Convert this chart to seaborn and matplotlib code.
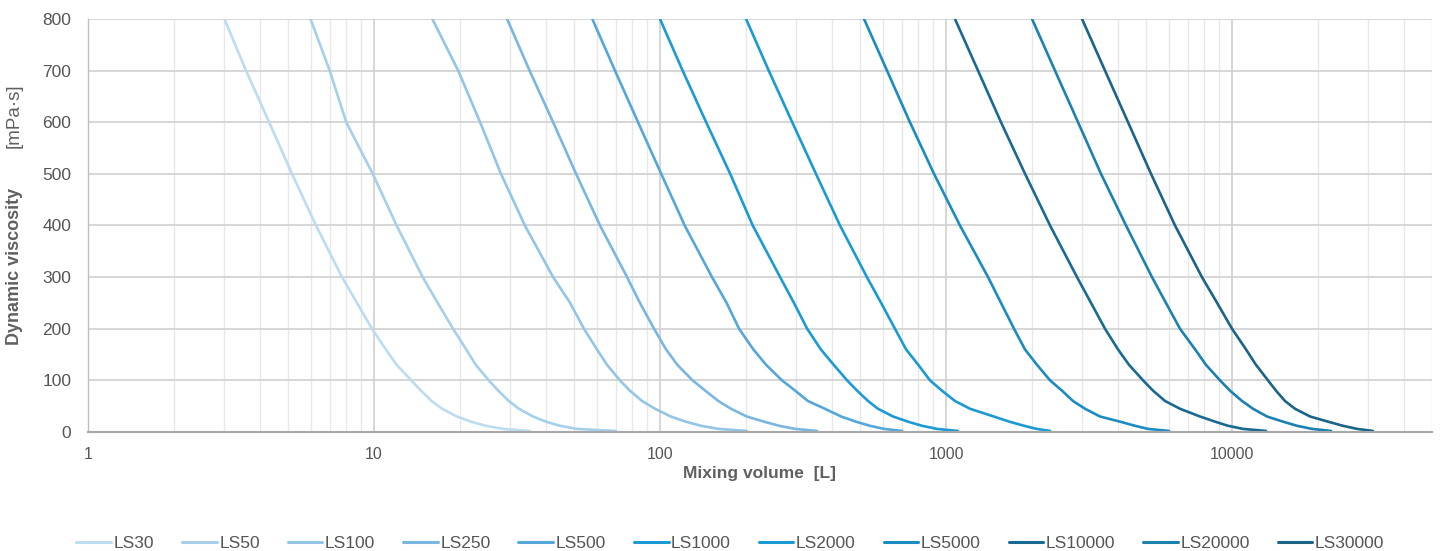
import pandas as pd
import matplotlib.pyplot as plt
import matplotlib.ticker as mticker
import seaborn as sns

# viscosity levels (mPa·s) at which the curves were read
visc = [800, 700, 600, 500, 400, 300, 250, 200, 160, 130, 100, 80, 60, 45, 30, 20, 12, 6, 2]

# mixing volume [L] of each model at those levels
ls30 = [3.0, 3.57, 4.30, 5.17, 6.27, 7.73, 8.72, 9.84, 11.0, 12.0, 13.5, 14.6, 15.9, 17.3, 19.5, 21.8, 24.6, 28.3, 35]
ls50 = [6.0, 7.0, 8.0, 9.9, 12.0, 14.8, 16.7, 18.9, 21.0, 22.7, 25.2, 27.2, 29.6, 32.1, 36.0, 39.9, 44.7, 51.3, 70]
ls100 = [16.0, 19.7, 23.5, 27.8, 33.7, 42.3, 48.5, 54.2, 60.2, 65.3, 72.4, 78.5, 86.5, 96.1, 109, 123, 139, 160, 201]
ls250 = [29.2, 35.0, 42.3, 50.9, 61.7, 76.7, 85.1, 95.3, 105, 115, 130, 144, 160, 177, 201, 231, 261, 297, 354]
ls500 = [58, 69.6, 83.8, 101, 122, 152, 171, 189, 212, 235, 267, 297, 329, 377, 430, 484, 542, 607, 702]
ls1000 = [100, 120, 145, 176, 211, 263, 294, 327, 365, 405, 451, 489, 534, 578, 653, 736, 824, 930, 1100]
ls2000 = [200, 240, 290, 351, 426, 529, 593, 663, 725, 800, 879, 968, 1075, 1213, 1468, 1665, 1875, 2074, 2311]
ls5000 = [517, 622, 748, 908, 1119, 1403, 1557, 1729, 1888, 2081, 2311, 2545, 2780, 3063, 3454, 4058, 4580, 5085, 6025]
ls10000 = [1075, 1294, 1557, 1890, 2311, 2871, 3214, 3597, 3993, 4365, 4886, 5297, 5834, 6577, 7727, 8726, 9683, 10920, 13150]
ls20000 = [1999, 2405, 2895, 3483, 4260, 5250, 5875, 6577, 7430, 8110, 9080, 9840, 10840, 11840, 13250, 15080, 16870, 19030, 22200]
ls30000 = [2990, 3597, 4330, 5210, 6320, 7850, 8870, 10000, 11190, 12130, 13360, 14250, 15320, 16600, 18750, 21660, 24420, 27350, 31100]

models = ['LS30', 'LS50', 'LS100', 'LS250', 'LS500', 'LS1000',
          'LS2000', 'LS5000', 'LS10000', 'LS20000', 'LS30000']
volumes = [ls30, ls50, ls100, ls250, ls500, ls1000,
           ls2000, ls5000, ls10000, ls20000, ls30000]
colors = ['#bcdcf0', '#a6cfea', '#93c5e6', '#79b6e0', '#55a7db', '#1b9ad6',
          '#1a9ad2', '#1b8cc2', '#196a92', '#1b82b0', '#1a6488']

# long-form table for seaborn
rows = []
for m, vol in zip(models, volumes):
    for v, y in zip(vol, visc):
        rows.append({'model': m, 'volume': v, 'viscosity': y})
df = pd.DataFrame(rows)

sns.set_style('white')
plt.rcParams['font.family'] = ['Liberation Sans', 'DejaVu Sans']

fig = plt.figure(figsize=(14.4, 5.51), dpi=100)
ax = fig.add_axes([0.0611, 0.216, 0.9333, 0.7495])

sns.lineplot(data=df, x='volume', y='viscosity', hue='model', hue_order=models,
             palette=colors, estimator=None, sort=False, linewidth=1.9, ax=ax)
for line in ax.get_lines():
    line.set_solid_joinstyle('round')
    line.set_solid_capstyle('round')

ax.set_xscale('log')
ax.set_xlim(1, 50000)
ax.set_ylim(0, 800)

ax.xaxis.set_major_locator(mticker.LogLocator(base=10))
ax.xaxis.set_major_formatter(mticker.FuncFormatter(lambda v, p: f'{v:g}' if v < 1e5 else ''))
ax.xaxis.set_minor_locator(mticker.LogLocator(base=10, subs=range(2, 10)))
ax.xaxis.set_minor_formatter(mticker.NullFormatter())
ax.yaxis.set_major_locator(mticker.MultipleLocator(100))
ax.yaxis.set_minor_locator(mticker.MultipleLocator(20))

ax.grid(True, which='major', axis='both', color='#d0d0d0', linewidth=1.2)
ax.grid(True, which='minor', axis='x', color='#e8e8e8', linewidth=1.0)
ax.set_axisbelow(True)

for s in ['top', 'right']:
    ax.spines[s].set_visible(False)
ax.spines['bottom'].set_color('#a8a8a8')
ax.spines['bottom'].set_linewidth(1.5)
ax.spines['left'].set_color('#bdbdbd')
ax.spines['left'].set_linewidth(1.0)

ax.tick_params(axis='both', which='both', direction='out', colors='#a8a8a8',
               labelcolor='#555555')
ax.tick_params(axis='both', which='major', length=6, width=1)
ax.tick_params(axis='both', which='minor', length=4, width=1)
ax.tick_params(axis='x', which='major', pad=5, labelsize=11.5)
ax.tick_params(axis='y', which='major', pad=6, labelsize=12.5)

ax.set_xlabel('Mixing volume  [L]', fontsize=12.5, fontweight='bold', color='#606060', labelpad=3)
ax.set_ylabel('')
ax.text(-0.055, 0.40, 'Dynamic viscosity', transform=ax.transAxes, rotation=90,
        ha='center', va='center', fontsize=13, fontweight='bold', color='#606060')
ax.text(-0.055, 0.765, '[mPa·s]', transform=ax.transAxes, rotation=90,
        ha='center', va='center', fontsize=13.5, color='#606060')

sns.move_legend(ax, 'center', bbox_to_anchor=(0.478, -0.27), ncol=11, title=None,
                frameon=False, fontsize=12.5, handlelength=2.0, handletextpad=0.15,
                columnspacing=1.6)
for line in ax.get_legend().get_lines():
    line.set_linewidth(2.2)
for t in ax.get_legend().get_texts():
    t.set_color('#555555')

plt.savefig('out.png', dpi=100)
